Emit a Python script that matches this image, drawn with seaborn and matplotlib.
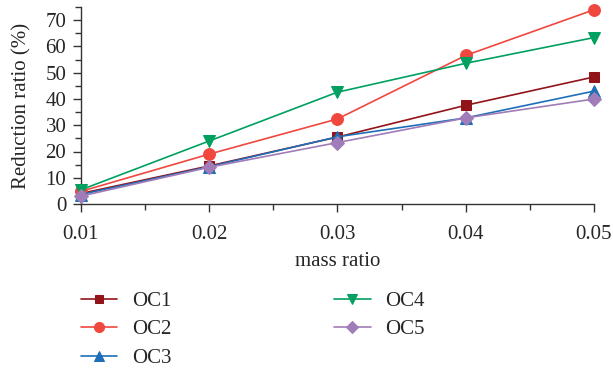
import matplotlib
matplotlib.use("Agg")
import matplotlib.pyplot as plt
import seaborn as sns
import pandas as pd
from matplotlib.ticker import MultipleLocator

mass_ratio = [0.01, 0.02, 0.03, 0.04, 0.05]
oc1 = [4.0, 14.5, 25.5, 37.6, 48.4]
oc2 = [4.8, 19.0, 32.4, 56.6, 74.0]
oc3 = [3.6, 14.2, 25.6, 32.8, 43.0]
oc4 = [5.4, 24.0, 42.6, 53.6, 63.4]
oc5 = [3.0, 14.0, 23.4, 32.8, 40.0]
series_names = ["OC1", "OC2", "OC3", "OC4", "OC5"]
series_values = [oc1, oc2, oc3, oc4, oc5]

colors = ["#921419", "#F0473F", "#1F6FB8", "#00A060", "#A07CB8"]
markers = ["s", "o", "^", "v", "D"]
msizes = [7.5, 8.5, 8.5, 8.5, 7.5]

rows = []
for name, vals in zip(series_names, series_values):
    for x, y in zip(mass_ratio, vals):
        rows.append({"mass ratio": x, "value": y, "series": name})
df = pd.DataFrame(rows)

sns.set_theme(style="ticks")
plt.rcParams["font.family"] = ["Liberation Serif", "DejaVu Serif"]

fig = plt.figure(figsize=(6.13, 3.75), dpi=100)
ax = fig.add_axes([0.132, 0.456, 0.837, 0.525])

for name, c, m, ms in zip(series_names, colors, markers, msizes):
    sub = df[df["series"] == name]
    sns.lineplot(data=sub, x="mass ratio", y="value", ax=ax, color=c,
                 marker=m, markersize=ms, markeredgecolor=c, linewidth=1.2,
                 label=name, clip_on=False, zorder=3)

ax.set_xlim(0.01, 0.05)
ax.set_ylim(0, 75)
ax.xaxis.set_major_locator(MultipleLocator(0.01))
ax.xaxis.set_minor_locator(MultipleLocator(0.005))
ax.yaxis.set_major_locator(MultipleLocator(10))
ax.yaxis.set_minor_locator(MultipleLocator(5))
ax.set_xticklabels([f"{v:.2f}" for v in ax.get_xticks()])
ax.tick_params(axis="both", which="major", labelsize=15, length=6, width=1, color="#333333", direction="out")
ax.tick_params(axis="x", which="major", pad=9)
ax.tick_params(axis="y", which="major", pad=4.5)
ax.tick_params(axis="both", which="minor", length=4, width=1, color="#333333", direction="out")
for s in ["top", "right"]:
    ax.spines[s].set_visible(False)
for s in ["left", "bottom"]:
    ax.spines[s].set_color("#333333")
    ax.spines[s].set_linewidth(1)

ax.set_xlabel("mass ratio", fontsize=15, labelpad=6)
ax.set_ylabel("Reduction ratio (%)", fontsize=15, labelpad=10)

handles, labels = ax.get_legend_handles_labels()
ax.legend(handles, labels, ncol=2, loc="upper left", bbox_to_anchor=(0.122, 0.24),
          bbox_transform=fig.transFigure, frameon=False, fontsize=15,
          handlelength=1.75, columnspacing=7.8, labelspacing=0.43, handletextpad=0.7,
          markerscale=0.85, borderaxespad=0, borderpad=0.3)

fig.savefig("out.png", dpi=100)
